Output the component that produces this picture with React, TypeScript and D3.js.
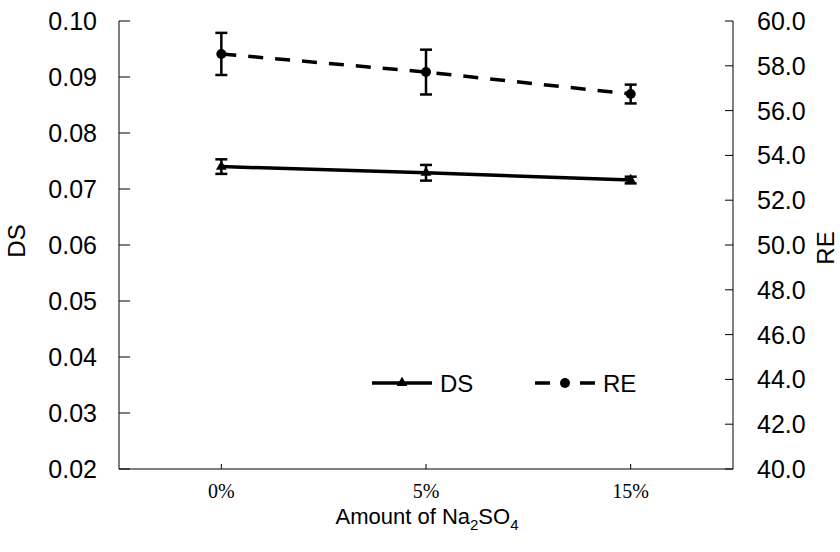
import React from "react";
import * as d3 from "d3";

const categories = ["0%", "5%", "15%"];
const dsValues = [0.0740, 0.0729, 0.0716];
const dsErrors = [0.0013, 0.0014, 0.0006];
const reValues = [58.53, 57.72, 56.74];
const reErrors = [0.94, 1.0, 0.42];
const dsTicks = [0.02, 0.03, 0.04, 0.05, 0.06, 0.07, 0.08, 0.09, 0.10];
const reTicks = [40, 42, 44, 46, 48, 50, 52, 54, 56, 58, 60];

const W = 840, H = 552;
const L = 119, R = 733, T = 21, B = 469;

export default function App() {
  const x = d3.scaleBand<string>().domain(categories).range([L, R]);
  const cx = (c: string) => (x(c) as number) + x.bandwidth() / 2;
  const yDS = d3.scaleLinear().domain([0.02, 0.10]).range([B, T]);
  const yRE = d3.scaleLinear().domain([40, 60]).range([B, T]);
  const lineDS = d3.line<number>().x((_, i) => cx(categories[i])).y((d) => yDS(d));
  const lineRE = d3.line<number>().x((_, i) => cx(categories[i])).y((d) => yRE(d));
  const tri = d3.symbol().type(d3.symbolTriangle).size(50)();
  const font = "'Liberation Sans', Arial, sans-serif";
  const serif = "'Liberation Serif', 'Times New Roman', serif";

  return (
    <svg width={W} height={H} style={{ position: "absolute", left: 0, top: 0, background: "#fff" }}>
      <rect x={0} y={0} width={W} height={H} fill="#fff" />
      {/* axes */}
      <line x1={L} y1={T} x2={L} y2={B} stroke="#000" strokeWidth={1} />
      <line x1={R} y1={T} x2={R} y2={B} stroke="#000" strokeWidth={1} />
      <line x1={L} y1={B} x2={R} y2={B} stroke="#000" strokeWidth={1} />
      {dsTicks.map((t) => (
        <g key={"ds" + t}>
          <line x1={L} x2={L + 11} y1={yDS(t)} y2={yDS(t)} stroke="#000" />
          <text x={97} y={yDS(t)} dy="0.36em" textAnchor="end" fontFamily={font} fontSize={25}>
            {t.toFixed(2)}
          </text>
        </g>
      ))}
      {reTicks.map((t) => (
        <g key={"re" + t}>
          <line x1={R - 8} x2={R} y1={yRE(t)} y2={yRE(t)} stroke="#000" />
          <text x={757} y={yRE(t)} dy="0.36em" textAnchor="start" fontFamily={font} fontSize={25}>
            {t.toFixed(1)}
          </text>
        </g>
      ))}
      {categories.map((c) => (
        <g key={"x" + c}>
          <line x1={cx(c)} x2={cx(c)} y1={B} y2={B - 5} stroke="#000" />
          <text x={cx(c)} y={491} dy="0.35em" textAnchor="middle" fontFamily={serif} fontSize={20}>
            {c}
          </text>
        </g>
      ))}
      <text x={427} y={524} textAnchor="middle" fontFamily={font} fontSize={22}>
        Amount of Na<tspan dy={6} fontSize={15}>2</tspan>
        <tspan dy={-6}>SO</tspan>
        <tspan dy={6} fontSize={15}>4</tspan>
      </text>
      <text transform={`translate(25,241) rotate(-90)`} textAnchor="middle" fontFamily={font} fontSize={24}>
        DS
      </text>
      <text transform={`translate(834,248) rotate(-90)`} textAnchor="middle" fontFamily={font} fontSize={24}>
        RE
      </text>

      {/* RE series */}
      <path d={lineRE(reValues) || ""} fill="none" stroke="#000" strokeWidth={3.5} strokeDasharray="15,12" />
      {reValues.map((v, i) => {
        const px = cx(categories[i]);
        const y1 = yRE(v + reErrors[i]), y2 = yRE(v - reErrors[i]);
        return (
          <g key={"rep" + i}>
            <line x1={px} x2={px} y1={y1} y2={y2} stroke="#000" strokeWidth={2.5} />
            <line x1={px - 6} x2={px + 6} y1={y1} y2={y1} stroke="#000" strokeWidth={2.5} />
            <line x1={px - 6} x2={px + 6} y1={y2} y2={y2} stroke="#000" strokeWidth={2.5} />
            <circle cx={px} cy={yRE(v)} r={5} fill="#000" />
          </g>
        );
      })}

      {/* DS series */}
      <path d={lineDS(dsValues) || ""} fill="none" stroke="#000" strokeWidth={3.5} />
      {dsValues.map((v, i) => {
        const px = cx(categories[i]);
        const y1 = yDS(v + dsErrors[i]), y2 = yDS(v - dsErrors[i]);
        return (
          <g key={"dsp" + i}>
            <line x1={px} x2={px} y1={y1} y2={y2} stroke="#000" strokeWidth={2.5} />
            <line x1={px - 6} x2={px + 6} y1={y1} y2={y1} stroke="#000" strokeWidth={2.5} />
            <line x1={px - 6} x2={px + 6} y1={y2} y2={y2} stroke="#000" strokeWidth={2.5} />
            <path d={tri || ""} transform={`translate(${px},${yDS(v)})`} fill="#000" />
          </g>
        );
      })}

      {/* legend */}
      <line x1={372} x2={432} y1={383} y2={383} stroke="#000" strokeWidth={3.5} />
      <path d={tri || ""} transform={`translate(402,383)`} fill="#000" />
      <text x={440} y={383} dy="0.36em" fontFamily={font} fontSize={24}>DS</text>
      <line x1={535} x2={595} y1={383} y2={383} stroke="#000" strokeWidth={3.5} strokeDasharray="15,30,15" />
      <circle cx={565} cy={383} r={5} fill="#000" />
      <text x={603} y={383} dy="0.36em" fontFamily={font} fontSize={24}>RE</text>
    </svg>
  );
}
